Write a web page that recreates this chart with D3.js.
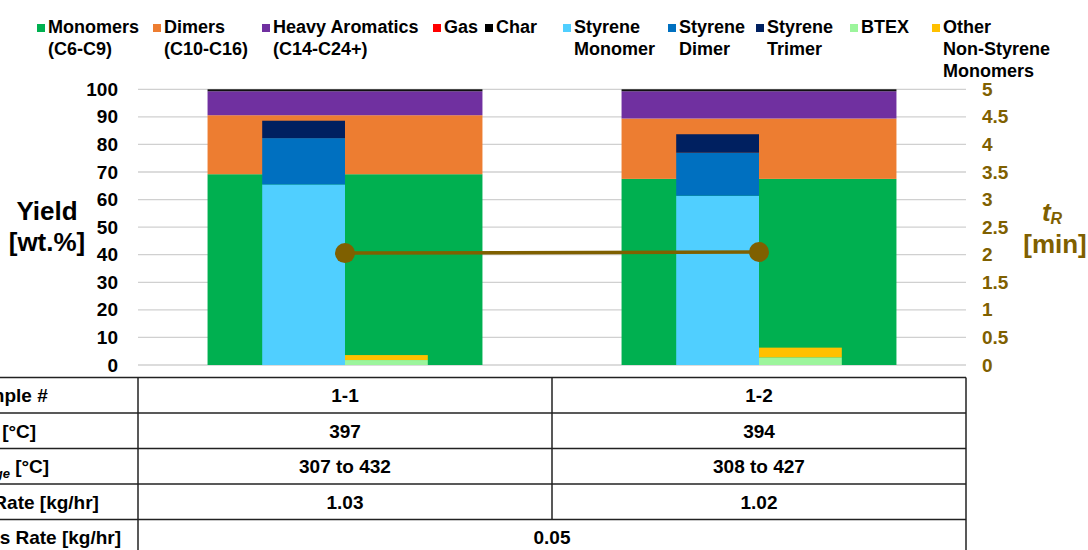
<!DOCTYPE html>
<html>
<head>
<meta charset="utf-8">
<script src="https://cdn.jsdelivr.net/npm/d3@7"></script>
<style>
  body { margin: 0; background: #fff; }
  svg { display: block; }
  text { font-family: "Liberation Sans", Arial, sans-serif; font-weight: bold; }
</style>
</head>
<body>
<svg id="chart" width="1088" height="550"></svg>
<script>
// ---- data -------------------------------------------------------------
const samples = ["1-1", "1-2"];

// overall product distribution [wt.%]
const monomers       = [69.2, 67.5];
const dimers         = [21.4, 21.9];
const heavyAromatics = [8.7, 9.9];
const gasYield       = [0.0, 0.0];
const charYield      = [0.7, 0.7];

// styrene breakdown [wt.%]
const styreneMonomer = [65.5, 61.4];
const styreneDimer   = [16.8, 15.6];
const styreneTrimer  = [6.3, 6.7];

// non-styrene monomers [wt.%]
const btex           = [1.8, 2.8];
const otherMonomers  = [1.8, 3.5];

// residence time [min]
const residenceTime  = [2.03, 2.05];

const yieldTicks = [0, 10, 20, 30, 40, 50, 60, 70, 80, 90, 100];
const timeTicks  = [0, 0.5, 1, 1.5, 2, 2.5, 3, 3.5, 4, 4.5, 5];

// operating conditions table
const avgTemp     = ["397", "394"];
const tempRange   = ["307 to 432", "308 to 427"];
const feedRate    = ["1.03", "1.02"];
const carrierRate = "0.05";

// ---- layout -----------------------------------------------------------
const svg = d3.select("#chart");
const plotLeft = 138, plotRight = 966, plotTop = 89.3, plotBottom = 365;

const x = d3.scaleBand().domain(samples).range([plotLeft, plotRight])
  .paddingInner(0.336).paddingOuter(0.168);
const y = d3.scaleLinear().domain([0, 100]).range([plotBottom, plotTop]);
const y2 = d3.scaleLinear().domain([0, 5]).range([plotBottom, plotTop]);
const narrowW = x.step() * 0.2;
const center = s => x(s) + x.bandwidth() / 2;

const colors = {
  mono: "#00b050", dim: "#ed7d31", heavy: "#7030a0", gas: "#ff0000", char: "#111111",
  sMono: "#50cfff", sDim: "#0070c0", sTri: "#002060", btex: "#9cf59c", other: "#ffc000",
  time: "#7f6000"
};

// gridlines
svg.append("g").selectAll("line").data(yieldTicks).join("line")
  .attr("x1", plotLeft).attr("x2", plotRight)
  .attr("y1", d => y(d)).attr("y2", d => y(d))
  .attr("stroke", "#d0d0d0").attr("stroke-width", 1.3);

// axes
const leftAxis = svg.append("g").attr("transform", `translate(${plotLeft},0)`)
  .call(d3.axisLeft(y).tickValues(yieldTicks).tickSize(0).tickPadding(20).tickFormat(d => String(d)));
leftAxis.select(".domain").remove();
leftAxis.selectAll("text").attr("font-size", 19).attr("fill", "#000")
  .attr("font-family", "Liberation Sans, Arial, sans-serif");

const rightAxis = svg.append("g").attr("transform", `translate(${plotRight},0)`)
  .call(d3.axisRight(y2).tickValues(timeTicks).tickSize(0).tickPadding(16).tickFormat(d => String(d)));
rightAxis.select(".domain").remove();
rightAxis.selectAll("text").attr("font-size", 19).attr("fill", colors.time)
  .attr("font-family", "Liberation Sans, Arial, sans-serif");

// stacked bars
function drawStack(keys, arrays, fills, xPos, width) {
  const rows = samples.map((s, i) => {
    const r = { sample: s };
    keys.forEach((k, j) => r[k] = arrays[j][i]);
    return r;
  });
  const series = d3.stack().keys(keys)(rows);
  svg.append("g").selectAll("g").data(series).join("g")
    .attr("fill", (d, i) => fills[i])
    .selectAll("rect").data(d => d).join("rect")
    .attr("x", d => xPos(d.data.sample))
    .attr("width", width)
    .attr("y", d => y(d[1]))
    .attr("height", d => y(d[0]) - y(d[1]));
}

drawStack(["mono", "dim", "heavy", "gas", "char"],
  [monomers, dimers, heavyAromatics, gasYield, charYield],
  [colors.mono, colors.dim, colors.heavy, colors.gas, colors.char],
  s => x(s), x.bandwidth());

drawStack(["sMono", "sDim", "sTri"],
  [styreneMonomer, styreneDimer, styreneTrimer],
  [colors.sMono, colors.sDim, colors.sTri],
  s => center(s) - narrowW, narrowW);

drawStack(["btex", "other"],
  [btex, otherMonomers],
  [colors.btex, colors.other],
  s => center(s), narrowW);

// residence time line
const pts = samples.map((s, i) => [center(s), y2(residenceTime[i])]);
svg.append("path").datum(pts)
  .attr("d", d3.line())
  .attr("fill", "none").attr("stroke", colors.time).attr("stroke-width", 3.5);
svg.append("g").selectAll("circle").data(pts).join("circle")
  .attr("cx", d => d[0]).attr("cy", d => d[1]).attr("r", 10)
  .attr("fill", colors.time);

// axis titles
const yTitle = svg.append("text").attr("text-anchor", "middle").attr("font-size", 26).attr("fill", "#000");
yTitle.append("tspan").attr("x", 47).attr("y", 220).text("Yield");
yTitle.append("tspan").attr("x", 47).attr("y", 251).text("[wt.%]");

const tTitle = svg.append("text").attr("text-anchor", "middle").attr("font-size", 26).attr("fill", colors.time);
tTitle.append("tspan").attr("x", 1052).attr("y", 221).attr("font-style", "italic").text("t");
tTitle.append("tspan").attr("font-style", "italic").attr("font-size", 16).attr("dy", 3).text("R");
svg.append("text").attr("text-anchor", "middle").attr("font-size", 26).attr("fill", colors.time)
  .attr("x", 1055).attr("y", 253).text("[min]");

// legend
const legendItems = [
  { lines: ["Monomers", "(C6-C9)"], color: colors.mono },
  { lines: ["Dimers", "(C10-C16)"], color: colors.dim },
  { lines: ["Heavy Aromatics", "(C14-C24+)"], color: colors.heavy },
  { lines: ["Gas"], color: colors.gas },
  { lines: ["Char"], color: "#000" },
  { lines: ["Styrene", "Monomer"], color: colors.sMono },
  { lines: ["Styrene", "Dimer"], color: colors.sDim },
  { lines: ["Styrene", "Trimer"], color: colors.sTri },
  { lines: ["BTEX"], color: colors.btex },
  { lines: ["Other", "Non-Styrene", "Monomers"], color: colors.other }
];
const legendX = [48, 164, 273, 444, 496, 574, 679, 767, 861, 943];
const legend = svg.append("g");
legendItems.forEach((item, i) => {
  const g = legend.append("g").attr("transform", `translate(${legendX[i]},0)`);
  g.append("rect").attr("x", -11).attr("y", 24).attr("width", 8).attr("height", 8).attr("fill", item.color);
  const t = g.append("text").attr("font-size", 18).attr("fill", "#000");
  item.lines.forEach((ln, j) => t.append("tspan").attr("x", 0).attr("y", 33 + j * 22).text(ln));
});

// conditions table
const tableTop = 377.5, rowH = 35.5, nRows = 5;
const colEdges = [-126, plotLeft, plotLeft + x.step(), plotRight];
const tbl = svg.append("g");
for (let r = 0; r <= nRows; r++) {
  tbl.append("line").attr("x1", colEdges[0]).attr("x2", colEdges[3])
    .attr("y1", tableTop + r * rowH).attr("y2", tableTop + r * rowH)
    .attr("stroke", "#222").attr("stroke-width", 1.5);
}
[colEdges[1], colEdges[3]].forEach(cx => tbl.append("line")
  .attr("x1", cx).attr("x2", cx).attr("y1", tableTop).attr("y2", tableTop + nRows * rowH)
  .attr("stroke", "#222").attr("stroke-width", 1.5));
tbl.append("line").attr("x1", colEdges[2]).attr("x2", colEdges[2])
  .attr("y1", tableTop).attr("y2", tableTop + 4 * rowH)
  .attr("stroke", "#222").attr("stroke-width", 1.5);

const labelCx = (colEdges[0] + colEdges[1]) / 2;
const rowLabels = [
  [["Sample #", false]],
  [["T", false], ["R", true], [" [°C]", false]],
  [["T", false], ["range", true], [" [°C]", false]],
  [["PS Feed Rate [kg/hr]", false]],
  [["Nitrogen Gas Rate [kg/hr]", false]]
];
rowLabels.forEach((parts, r) => {
  const t = tbl.append("text").attr("x", labelCx).attr("y", tableTop + r * rowH + rowH / 2 + 7)
    .attr("text-anchor", "middle").attr("font-size", 19).attr("fill", "#000");
  let sub = false;
  parts.forEach(([txt, isSub]) => {
    const sp = t.append("tspan").text(txt);
    if (isSub) { sp.attr("font-size", 13).attr("font-style", "italic").attr("dy", 5); sub = true; }
    else if (sub) { sp.attr("dy", -5); sub = false; }
  });
});

const cellRows = [samples, avgTemp, tempRange, feedRate];
cellRows.forEach((vals, r) => {
  samples.forEach((s, i) => {
    tbl.append("text").attr("x", center(s)).attr("y", tableTop + r * rowH + rowH / 2 + 7)
      .attr("text-anchor", "middle").attr("font-size", 19).attr("fill", "#000").text(vals[i]);
  });
});
tbl.append("text").attr("x", (plotLeft + plotRight) / 2).attr("y", tableTop + 4 * rowH + rowH / 2 + 7)
  .attr("text-anchor", "middle").attr("font-size", 19).attr("fill", "#000").text(carrierRate);
</script>
</body>
</html>
